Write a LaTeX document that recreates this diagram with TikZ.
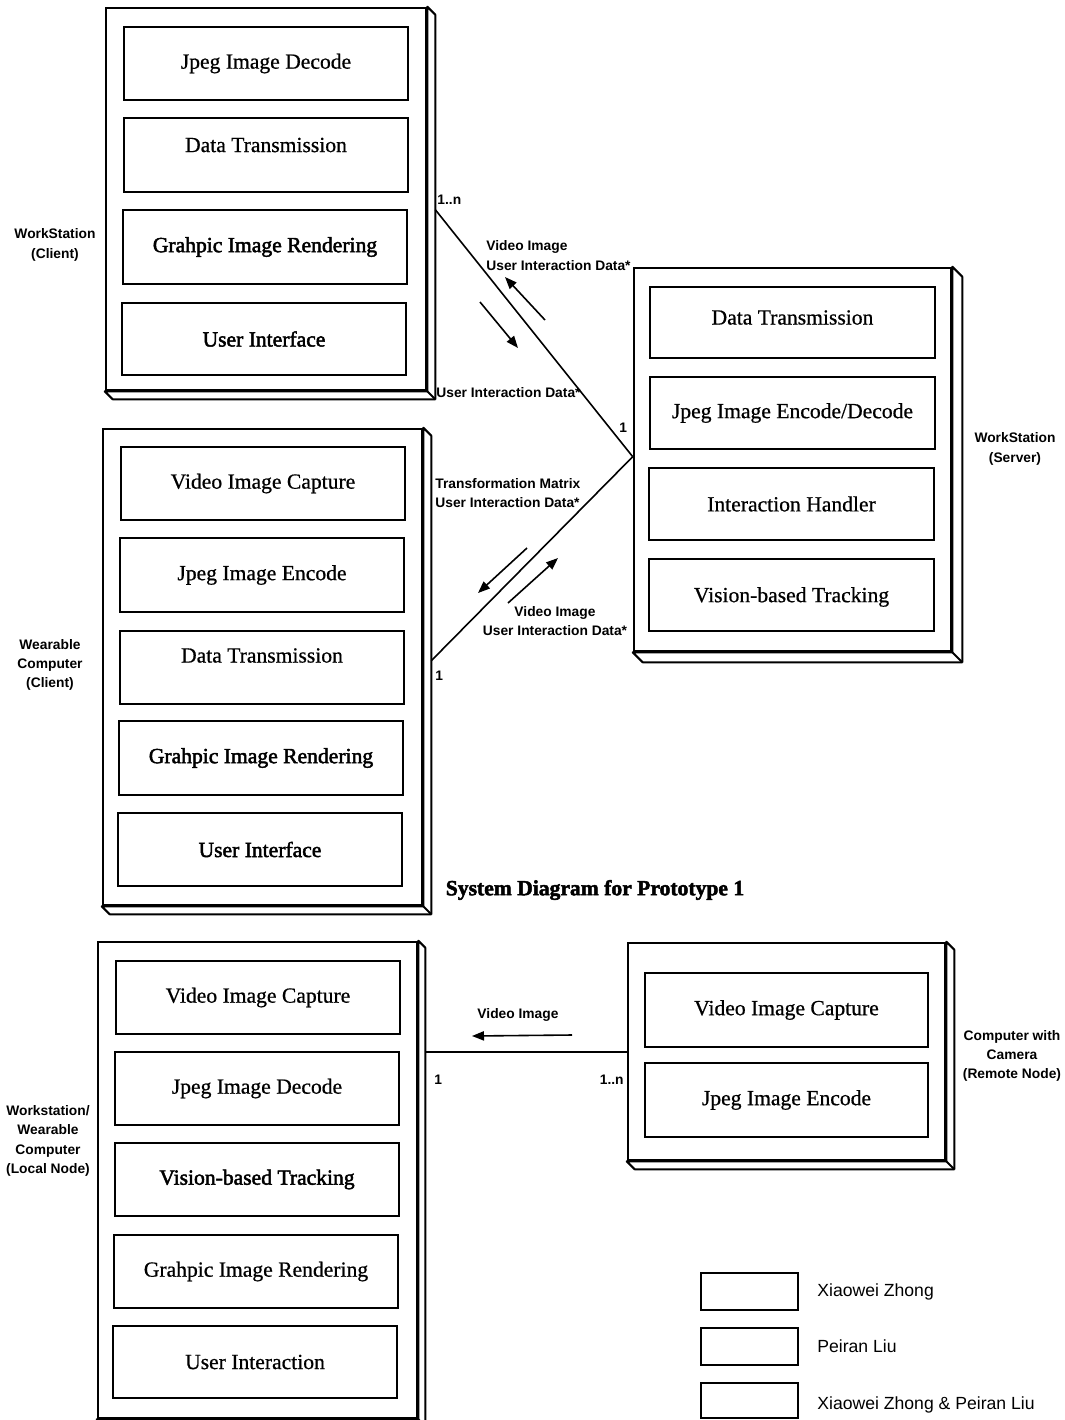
\documentclass[tikz,border=0pt]{standalone}
\usepackage{fontspec}
\setmainfont{Liberation Serif}
\setsansfont{Liberation Sans}
\newfontfamily\plainserif[FakeBold=0.7]{Liberation Serif}
\newfontfamily\heavyserif[FakeBold=2.2]{Liberation Serif}
\usetikzlibrary{arrows.meta,fit,calc}

\newcommand\partfont{\plainserif\fontsize{10.8}{13}\selectfont}
\newcommand\heavyfont{\heavyserif\fontsize{10.8}{13}\selectfont}
\newcommand\tagfont{\sffamily\bfseries\fontsize{6.9}{9.6}\selectfont}
\newcommand\legendfont{\sffamily\fontsize{8.8}{10}\selectfont}

\tikzset{
  x=0.5pt, y=-0.5pt,
  frame/.style={draw, line width=1.3pt, inner sep=0pt, fill=white},
  side/.style={draw, line width=1pt, line join=round, fill=white},
  part/.style={draw, line width=1.1pt, inner sep=0pt},
  parttext/.style={inner sep=0pt, font=\partfont},
  heavytext/.style={inner sep=0pt, font=\heavyfont},
  tag/.style={inner sep=0pt, font=\tagfont},
  link/.style={line width=0.8pt},
  flow/.style={line width=0.8pt, -{Triangle[length=6pt, width=4.6pt]}},
  legendbox/.style={draw, line width=1.1pt, inner sep=0pt},
  legendtext/.style={inner sep=0pt, anchor=west, font=\legendfont},
}

% depth strip along the right and bottom sides of a node frame
\newcommand\depthstrip[2]{%
  \draw[side] (#1.north east) -- ++(#2,#2) -- ($(#1.south east)+(#2,#2)$)
    -- ($(#1.south west)+(#2,#2)$) -- (#1.south west) -- (#1.south east) -- cycle;
  \draw[side] (#1.south east) -- ++(#2,#2);
}

\begin{document}
\begin{tikzpicture}
\useasboundingbox (0,0) rectangle (1065,1420);
\clip (0,0) rectangle (1065,1420);
\fill[white] (0,0) rectangle (1065,1420);

% ---------- WorkStation (Client) ----------
\node[frame, fit={(106,8)(426,390)}] (A) {};
\depthstrip{A}{8}
\node[part, fit={(124,27)(408,100)}] (a1) {};
\node[parttext] (a1t) at (a1.center) {Jpeg Image Decode};
\node[part, fit={(124,118)(408,192)}] (a2) {};
\node[parttext] (a2t) at ($(a2.center)+(0,-10)$) {Data Transmission};
\node[part, fit={(123,210)(407,284)}] (a3) {};
\node[heavytext] (a3t) at (a3.center) {Grahpic Image Rendering};
\node[part, fit={(122,303)(406,375)}] (a4) {};
\node[heavytext] (a4t) at (a4.center) {User Interface};
\node[tag, align=center] (Alab) at (55,245) {WorkStation\\(Client)};

% ---------- Wearable Computer (Client) ----------
\node[frame, fit={(103,429)(422,905)}] (B) {};
\depthstrip{B}{8}
\node[part, fit={(121,447)(405,520)}] (b1) {};
\node[parttext] (b1t) at (b1.center) {Video Image Capture};
\node[part, fit={(120,538)(404,612)}] (b2) {};
\node[parttext] (b2t) at (b2.center) {Jpeg Image Encode};
\node[part, fit={(120,631)(404,704)}] (b3) {};
\node[parttext] (b3t) at ($(b3.center)+(0,-12)$) {Data Transmission};
\node[part, fit={(119,721)(403,795)}] (b4) {};
\node[heavytext] (b4t) at (b4.center) {Grahpic Image Rendering};
\node[part, fit={(118,813)(402,886)}] (b5) {};
\node[heavytext] (b5t) at (b5.center) {User Interface};
\node[tag, align=center] (Blab) at (50,665) {Wearable\\Computer\\(Client)};

% ---------- WorkStation (Server) ----------
\node[frame, fit={(634,268)(951,651)}] (C) {};
\depthstrip{C}{10}
\node[part, fit={(650,287)(935,358)}] (c1) {};
\node[parttext] (c1t) at ($(c1.center)+(0,-5)$) {Data Transmission};
\node[part, fit={(650,377)(935,449)}] (c2) {};
\node[parttext] (c2t) at (c2.center) {Jpeg Image Encode/Decode};
\node[part, fit={(649,468)(934,540)}] (c3) {};
\node[parttext] (c3t) at (c3.center) {Interaction Handler};
\node[part, fit={(649,559)(934,631)}] (c4) {};
\node[parttext] (c4t) at ($(c4.center)+(0,2)$) {Vision-based Tracking};
\node[tag, align=center] (Clab) at (1015,449) {WorkStation\\(Server)};

% ---------- links of prototype 1 ----------
\coordinate (A-port) at ($(A.north east)+(8,203)$);
\coordinate (B-port) at ($(B.north east)+(8,233)$);
\coordinate (C-port) at ($(C.north west)+(0,190)$);
\draw[link] (A-port) -- (C-port);
\draw[link] (B-port) -- (C-port);

\node[tag, anchor=west] (m1) at (437,200) {1..n};
\node[tag, anchor=west] (m2) at (619,428) {1};
\node[tag, anchor=west] (m3) at (435,676) {1};

\draw[flow] (545,320) -- (505,277);
\draw[flow] (480,302) -- (518,348);
\node[tag, anchor=west, align=left] (f1) at (486,255.5) {Video Image\\User Interaction Data*};
\node[tag, anchor=west] (f2) at (436,393) {User Interaction Data*};

\draw[flow] (527,548) -- (478,593);
\draw[flow] (508,603) -- (558,558);
\node[tag, anchor=west, align=left] (f3) at (435,493) {Transformation Matrix\\User Interaction Data*};
\node[tag, align=center] (f4) at (555,621) {Video Image\\User Interaction Data*};

\node[inner sep=0pt, font={\heavyserif\bfseries\fontsize{10.8}{13}\selectfont}] (title) at (595,890) {System Diagram for Prototype 1};

% ---------- Local Node ----------
\node[frame, fit={(98,942)(417,1418)}] (D) {};
\depthstrip{D}{7}
\node[part, fit={(116,961)(400,1034)}] (d1) {};
\node[parttext] (d1t) at (d1.center) {Video Image Capture};
\node[part, fit={(115,1052)(399,1125)}] (d2) {};
\node[parttext] (d2t) at (d2.center) {Jpeg Image Decode};
\node[part, fit={(115,1143)(399,1216)}] (d3) {};
\node[heavytext] (d3t) at (d3.center) {Vision-based Tracking};
\node[part, fit={(114,1235)(398,1308)}] (d4) {};
\node[parttext] (d4t) at (d4.center) {Grahpic Image Rendering};
\node[part, fit={(113,1326)(397,1398)}] (d5) {};
\node[parttext] (d5t) at (d5.center) {User Interaction};
\node[tag, align=center, font={\sffamily\bfseries\fontsize{6.9}{9.8}\selectfont}] (Dlab) at (48,1141) {Workstation/\\Wearable\\Computer\\(Local Node)};

% ---------- Remote Node ----------
\node[frame, fit={(628,943)(945,1160)}] (E) {};
\depthstrip{E}{8}
\node[part, fit={(645,973)(928,1047)}] (e1) {};
\node[parttext] (e1t) at (e1.center) {Video Image Capture};
\node[part, fit={(645,1063)(928,1137)}] (e2) {};
\node[parttext] (e2t) at (e2.center) {Jpeg Image Encode};
\node[tag, align=center] (Elab) at (1012,1056) {Computer with\\Camera\\(Remote Node)};

\coordinate (D-port) at ($(D.north east)+(7,111)$);
\coordinate (E-port) at ($(E.north west)+(0,110)$);
\draw[link] (D-port) -- (E-port);
\draw[flow] (572,1035) -- (472,1036);
\node[tag] (f5) at (518,1015) {Video Image};
\node[tag, anchor=west] (m4) at (434,1080) {1};
\node[tag, anchor=east] (m5) at (624,1080) {1..n};

% ---------- legend ----------
\node[legendbox, fit={(701,1273)(798,1310)}] (k1) {};
\node[legendbox, fit={(701,1328)(798,1365)}] (k2) {};
\node[legendbox, fit={(701,1383)(798,1418)}] (k3) {};
\node[legendtext] (k1t) at (817,1292) {Xiaowei Zhong};
\node[legendtext] (k2t) at (817,1346) {Peiran Liu};
\node[legendtext] (k3t) at (817,1405) {Xiaowei Zhong \& Peiran Liu};
\end{tikzpicture}
\end{document}
